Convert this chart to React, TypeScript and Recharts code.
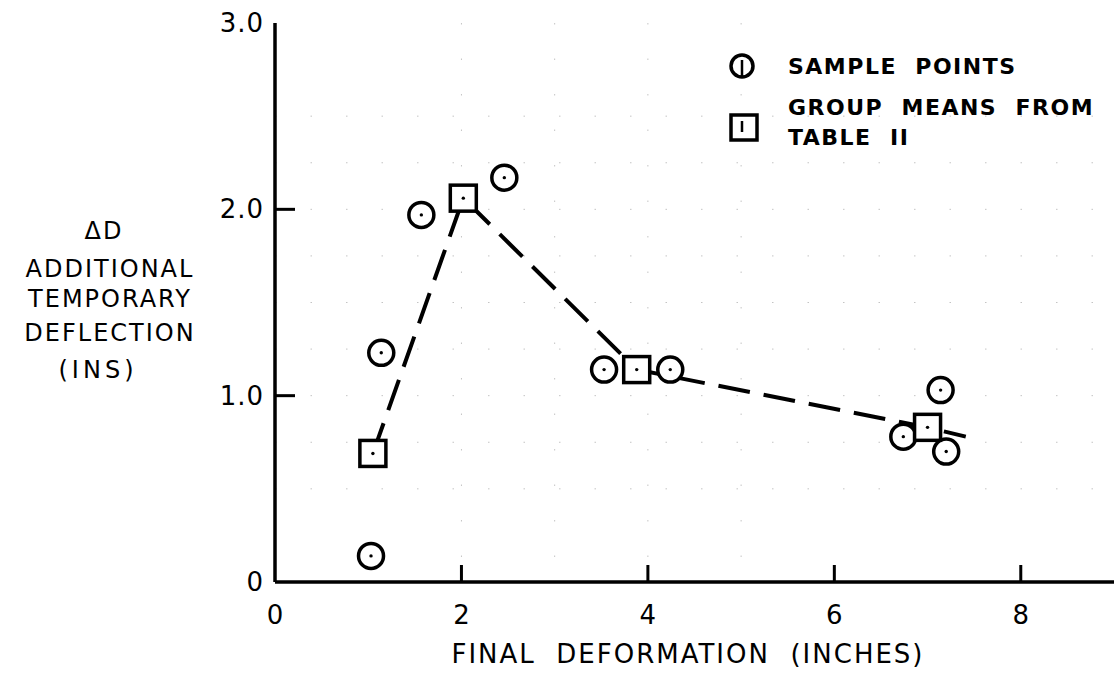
import React from 'react';
import { ScatterChart, Scatter, XAxis, YAxis, CartesianGrid, Legend } from 'recharts';

// sample points (circles)
const sampleX = [1.03, 1.14, 1.57, 2.46, 3.53, 4.24, 6.74, 7.14, 7.2];
const sampleY = [0.14, 1.23, 1.97, 2.17, 1.14, 1.14, 0.78, 1.03, 0.7];

// group means from table II (squares)
const meanX = [1.05, 2.02, 3.88, 7.0];
const meanY = [0.69, 2.06, 1.14, 0.83];

// dashed trend line runs through the means and a little past the last one
const trendX = [1.05, 2.02, 3.88, 7.0, 7.41];
const trendY = [0.69, 2.06, 1.14, 0.83, 0.78];

const xTicks = [0, 2, 4, 6, 8];
const yTicks = [0, 1, 2, 3];
const yTickLabels = ['0', '1.0', '2.0', '3.0'];
const gridX = [2, 3, 4, 5];
const gridY = [0.5, 0.75, 1, 1.25, 1.5, 1.75, 2, 2.25, 2.5];

const yLabelLines = ['\u0394D', 'ADDITIONAL', 'TEMPORARY', 'DEFLECTION', '(INS)'];
const xLabel = 'FINAL  DEFORMATION  (INCHES)';
const legendItems = ['SAMPLE  POINTS', 'GROUP  MEANS  FROM', 'TABLE  II'];

const samples = sampleX.map((x, i) => ({ x, y: sampleY[i] }));
const means = meanX.map((x, i) => ({ x, y: meanY[i] }));
const trend = trendX.map((x, i) => ({ x, y: trendY[i] }));

const FONT = '"DejaVu Sans", sans-serif';
const pre = { whiteSpace: 'pre' as const };

const CircleMark = (props: any) => {
  const { cx, cy } = props;
  return (
    <g>
      <circle cx={cx} cy={cy} r={12.5} fill="#fff" stroke="#000" strokeWidth={3.5} />
      <circle cx={cx} cy={cy} r={1.7} fill="#000" />
    </g>
  );
};

const SquareMark = (props: any) => {
  const { cx, cy } = props;
  return (
    <g>
      <rect x={cx - 13} y={cy - 13} width={26} height={26} fill="#fff" stroke="#000" strokeWidth={3.5} />
      <circle cx={cx} cy={cy} r={1.7} fill="#000" />
    </g>
  );
};

const NoMark = () => <g />;

const XTick = (props: any) => {
  const { x, y, payload } = props;
  return (
    <g>
      {payload.value !== 0 && <line x1={x} y1={y} x2={x} y2={y - 17} stroke="#000" strokeWidth={3} />}
      <text x={x} y={y + 42} textAnchor="middle" fontFamily={FONT} fontSize={26} fill="#000">
        {payload.value}
      </text>
    </g>
  );
};

const YTick = (props: any) => {
  const { x, y, payload } = props;
  const idx = yTicks.indexOf(payload.value);
  const showMark = payload.value === 1 || payload.value === 2;
  return (
    <g>
      {showMark && <line x1={x} y1={y} x2={x + 20} y2={y} stroke="#000" strokeWidth={3} />}
      <text x={x - 11} y={y + 9} textAnchor="end" fontFamily={FONT} fontSize={26} fill="#000" letterSpacing={1}>
        {yTickLabels[idx]}
      </text>
    </g>
  );
};

const YLabel = (props: any) => {
  const { viewBox } = props;
  const cx = viewBox.x + 110;
  // line positions follow the typed label in the original
  const rows = [230, 268, 298, 332, 369];
  return (
    <g>
      {yLabelLines.map((t, i) => (
        <text key={t} x={i === 4 ? cx - 12 : i === 0 ? cx - 6 : cx} y={rows[i] + 9} textAnchor="middle"
          fontFamily={FONT} fontSize={24} fill="#000" letterSpacing={i === 4 ? 4 : 2}>
          {t}
        </text>
      ))}
    </g>
  );
};

const XLabel = (props: any) => {
  const { viewBox } = props;
  return (
    <text x={viewBox.x + 413} y={663} textAnchor="middle" fontFamily={FONT} fontSize={26} fill="#000"
      letterSpacing={2} style={pre}>
      {xLabel}
    </text>
  );
};

const LegendBox = () => (
  <svg width={400} height={115}>
    <circle cx={27} cy={26} r={11} fill="#fff" stroke="#000" strokeWidth={3.5} />
    <line x1={27} y1={20} x2={27} y2={37} stroke="#000" strokeWidth={2.5} />
    <text x={73} y={34} fontFamily={FONT} fontSize={22} fontWeight="bold" fill="#000" letterSpacing={1.5} style={pre}>
      {legendItems[0]}
    </text>
    <rect x={16} y={75} width={26} height={25} fill="#fff" stroke="#000" strokeWidth={3.5} />
    <line x1={27} y1={81} x2={27} y2={92} stroke="#000" strokeWidth={2.5} />
    <text x={73} y={75} fontFamily={FONT} fontSize={22} fontWeight="bold" fill="#000" letterSpacing={1.5} style={pre}>
      {legendItems[1]}
    </text>
    <text x={73} y={105} fontFamily={FONT} fontSize={22} fontWeight="bold" fill="#000" letterSpacing={1.5} style={pre}>
      {legendItems[2]}
    </text>
  </svg>
);

export default function App() {
  return (
    <div style={{ position: 'absolute', left: 0, top: 0, background: '#fff' }}>
      <ScatterChart width={1114} height={673} margin={{ top: 23, right: 0, bottom: 0, left: 0 }}>
        <CartesianGrid
          horizontalValues={gridY}
          verticalValues={gridX}
          stroke="#c4c4c4"
          strokeDasharray="1.5 34"
        />
        <XAxis
          type="number"
          dataKey="x"
          domain={[0, 9]}
          ticks={xTicks}
          height={91}
          tickSize={0}
          tickMargin={0}
          tickLine={false}
          axisLine={{ stroke: '#000', strokeWidth: 3.5 }}
          tick={<XTick />}
          label={<XLabel />}
          allowDataOverflow
        />
        <YAxis
          type="number"
          dataKey="y"
          domain={[0, 3]}
          ticks={yTicks}
          width={275}
          tickSize={0}
          tickMargin={0}
          tickLine={false}
          axisLine={{ stroke: '#000', strokeWidth: 3.5 }}
          tick={<YTick />}
          label={<YLabel />}
        />
        <Legend
          layout="vertical"
          align="center"
          verticalAlign="middle"
          content={<LegendBox />}
          wrapperStyle={{ left: 715, top: 40, width: 400, height: 115 }}
        />
        <Scatter
          data={trend}
          line={{ stroke: '#000', strokeWidth: 4, strokeDasharray: '32 14' }}
          lineType="joint"
          shape={<NoMark />}
          isAnimationActive={false}
        />
        <Scatter data={samples} shape={<CircleMark />} isAnimationActive={false} />
        <Scatter data={means} shape={<SquareMark />} isAnimationActive={false} />
      </ScatterChart>
    </div>
  );
}
